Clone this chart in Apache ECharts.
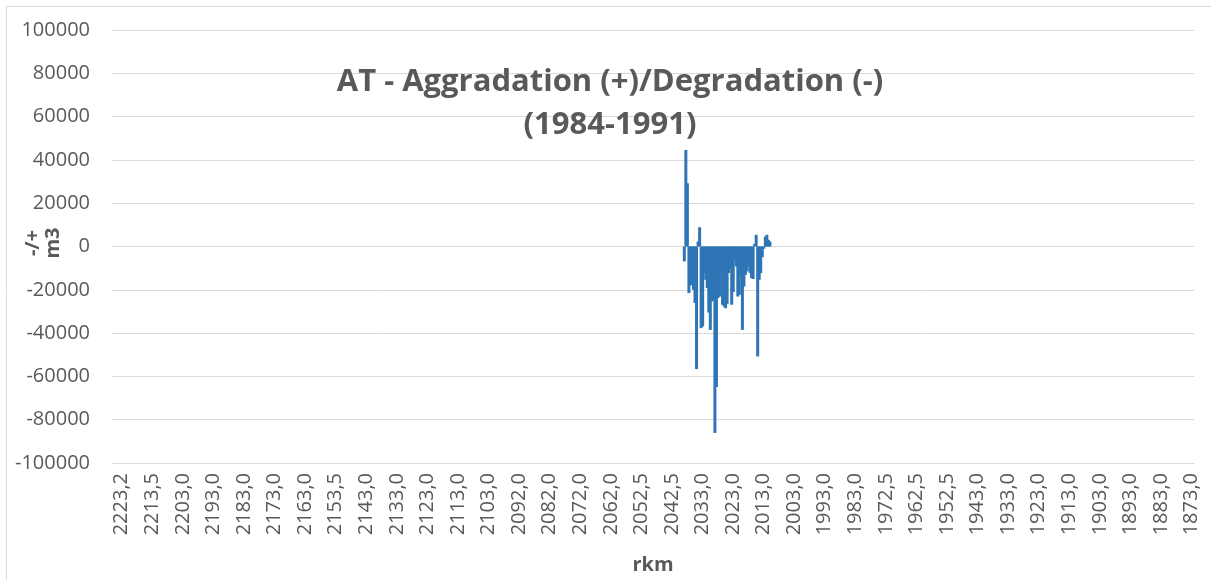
<!DOCTYPE html>
<html>
<head>
<meta charset="utf-8">
<title>AT - Aggradation/Degradation (1984-1991)</title>
<script src="https://cdn.jsdelivr.net/npm/echarts@6/dist/echarts.min.js"></script>
<style>
  html, body { margin: 0; padding: 0; background: #ffffff; }
  #chart { width: 1211px; height: 580px; }
</style>
</head>
<body>
<div id="chart"></div>
<script>
// River kilometre labels printed along the category axis (one every 20 sections)
const tickLabels = [
  '2223,2', '2213,5', '2203,0', '2193,0', '2183,0', '2173,0', '2163,0', '2153,5', '2143,0',
  '2133,0', '2123,0', '2113,0', '2103,0', '2092,0', '2082,0', '2072,0', '2062,0', '2052,5',
  '2042,5', '2033,0', '2023,0', '2013,0', '2003,0', '1993,0', '1983,0', '1972,5', '1962,5',
  '1952,5', '1943,0', '1933,0', '1923,0', '1913,0', '1903,0', '1893,0', '1883,0', '1873,0'
];
const sectionsPerTick = 20;
const sectionCount = 708;

// Surveyed reach: index of the first section with a volume, then volumes in m3
const firstSurveyedSection = 374;
const volumes = [
  -6900, 44600, 29200, -21500, -18000, -17700, -20000, -26100, -56600, 2300,
  8900, -37700, -36900, -12300, -15400, -19200, -30500, -38500, -25400, -24600,
  -86100, -64900, -23800, -23100, -10800, -26900, -27700, -28500, -26500, -12300,
  -10000, -26900, -21000, -6200, -9200, -23100, -22300, -13100, -38500, -18500,
  -13100, -11500, -9500, -12300, -14600, -15000, 1200, 5400, -50800, -15400,
  -12300, -4900, -1000, 4600, 5400, 3100, 2300
];

const sections = [];
for (let i = 0; i < sectionCount; i++) sections.push(String(i));

const seriesData = new Array(sectionCount).fill(null);
volumes.forEach((v, k) => { seriesData[firstSurveyedSection + k] = v; });

const textColor = '#595959';
const gridColor = '#D9D9D9';
const font = '"Open Sans", "Noto Sans", sans-serif';

const chart = echarts.init(document.getElementById('chart'), null, { renderer: 'canvas' });
chart.setOption({
  animation: false,
  backgroundColor: '#ffffff',
  title: {
    text: 'AT - Aggradation (+)/Degradation (-)\n(1984-1991)',
    left: 605,
    top: 56,
    textAlign: 'center',
    textStyle: {
      fontFamily: font,
      fontWeight: 'bold',
      fontSize: 31,
      lineHeight: 43,
      color: textColor
    }
  },
  graphic: [
    {
      type: 'rect',
      silent: true,
      shape: { x: 6.5, y: 6.5, width: 1400, height: 800 },
      style: { fill: 'none', stroke: gridColor, lineWidth: 1 }
    },
    {
      type: 'text',
      silent: true,
      x: 43,
      y: 243,
      rotation: Math.PI / 2,
      style: {
        text: '-/+\nm3',
        fontFamily: font,
        fontWeight: 'bold',
        fontSize: 20,
        lineHeight: 20,
        fill: textColor,
        align: 'center',
        verticalAlign: 'middle'
      }
    }
  ],
  grid: { left: 112, right: 17, top: 30, bottom: 117, containLabel: false },
  xAxis: {
    type: 'category',
    data: sections,
    boundaryGap: true,
    name: 'rkm',
    nameLocation: 'middle',
    nameGap: 92,
    nameTextStyle: { fontFamily: font, fontWeight: 'bold', fontSize: 20, color: textColor },
    axisLine: { show: true, onZero: false, lineStyle: { color: gridColor } },
    axisTick: { show: false },
    splitLine: { show: false },
    axisLabel: {
      interval: (index) => index % sectionsPerTick === 0,
      formatter: (value, index) => tickLabels[index / sectionsPerTick] || '',
      rotate: 90,
      margin: 10,
      verticalAlign: 'top',
      lineHeight: 18,
      fontFamily: font,
      fontSize: 20,
      color: textColor
    }
  },
  yAxis: {
    type: 'value',
    min: -100000,
    max: 100000,
    interval: 20000,
    axisLine: { show: false },
    axisTick: { show: false },
    splitLine: { show: true, lineStyle: { color: gridColor, width: 1 } },
    axisLabel: {
      margin: 22,
      formatter: (v) => String(v),
      fontFamily: font,
      fontSize: 20,
      color: textColor
    }
  },
  series: [
    {
      type: 'bar',
      name: 'Volume',
      data: seriesData,
      barWidth: 3,
      itemStyle: { color: '#2E75B6' }
    }
  ]
});
</script>
</body>
</html>
